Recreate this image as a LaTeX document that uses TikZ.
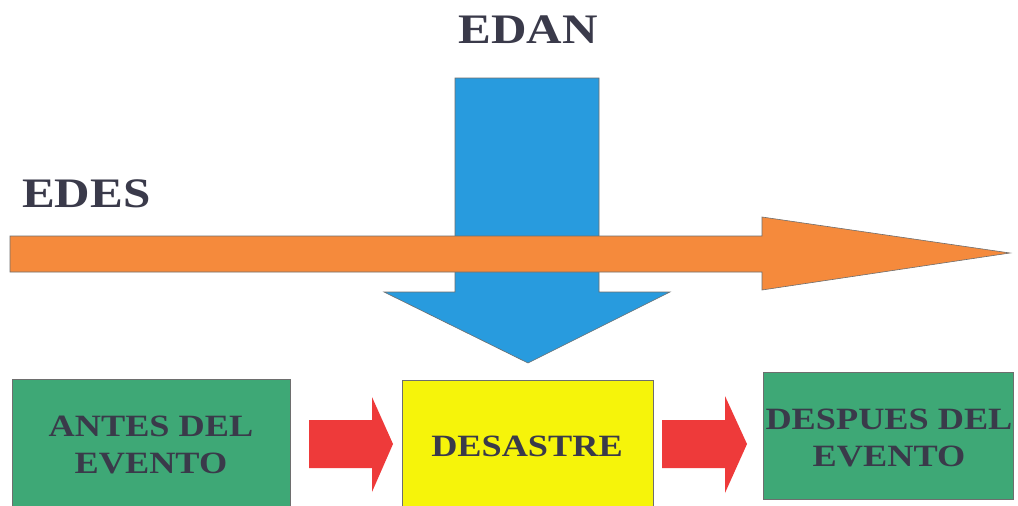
\documentclass[tikz,border=0pt]{standalone}
\usepackage{fontspec}
\usepackage{graphicx}
\setmainfont{Liberation Serif}
\definecolor{boxgreen}{RGB}{62,168,118}
\definecolor{boxyellow}{RGB}{246,244,10}
\definecolor{arrred}{RGB}{238,58,58}
\definecolor{arrorange}{RGB}{245,138,60}
\definecolor{arrblue}{RGB}{40,155,222}
\definecolor{txt}{RGB}{58,58,74}
\definecolor{edge}{RGB}{110,110,110}
\newcommand{\widetxt}[1]{\scalebox{1.17}[1]{\bfseries #1}}
\tikzset{
  stage/.style={draw=edge, line width=0.8pt, inner sep=0pt, anchor=north west},
  stagetext/.style={text=txt, inner sep=0pt, align=center, font=\fontsize{31}{37}\selectfont},
  blockarrow/.style={draw=edge, line width=0.6pt},
  title/.style={font=\fontsize{42}{46}\selectfont, text=txt, inner sep=0pt}
}
\begin{document}
\begin{tikzpicture}[x=1pt,y=-1pt]
\useasboundingbox (0,0) rectangle (1018,506);
\clip (0,0) rectangle (1018,506);
\fill[white] (0,0) rectangle (1018,506);
% titles
\node[title, anchor=base] (edan) at (528,43) {\widetxt{EDAN}};
\node[title, anchor=base west] (edes) at (22,207) {\widetxt{EDES}};
% blue arrow (behind)
\draw[blockarrow, fill=arrblue] (455,78) -- (599,78) -- (599,292) -- (670,292) -- (528,363) -- (384,292) -- (455,292) -- cycle;
% orange arrow
\draw[blockarrow, fill=arrorange] (10,236) -- (762,236) -- (762,217) -- (1010,253) -- (762,290) -- (762,272) -- (10,272) -- cycle;
% boxes
\node[stage, fill=boxgreen, minimum width=278pt, minimum height=140pt] (antes) at (12,379) {};
\node[stagetext] (antesT) at (151,445) {\widetxt{ANTES DEL}\\\widetxt{EVENTO}};
\node[stage, fill=boxyellow, minimum width=251pt, minimum height=140pt] (des) at (402,380) {};
\node[stagetext] (desT) at (527,446) {\widetxt{DESASTRE}};
\node[stage, fill=boxgreen, minimum width=250pt, minimum height=127pt] (despues) at (763,372) {};
\node[stagetext] (despT) at (889,438) {\widetxt{DESPUES DEL}\\\widetxt{EVENTO}};
% red arrows
\fill[arrred] (309,420) -- (372,420) -- (372,397) -- (393,444) -- (372,492) -- (372,468) -- (309,468) -- cycle;
\fill[arrred] (662,420) -- (725,420) -- (725,396) -- (747,444) -- (725,493) -- (725,468) -- (662,468) -- cycle;
\end{tikzpicture}
\end{document}
